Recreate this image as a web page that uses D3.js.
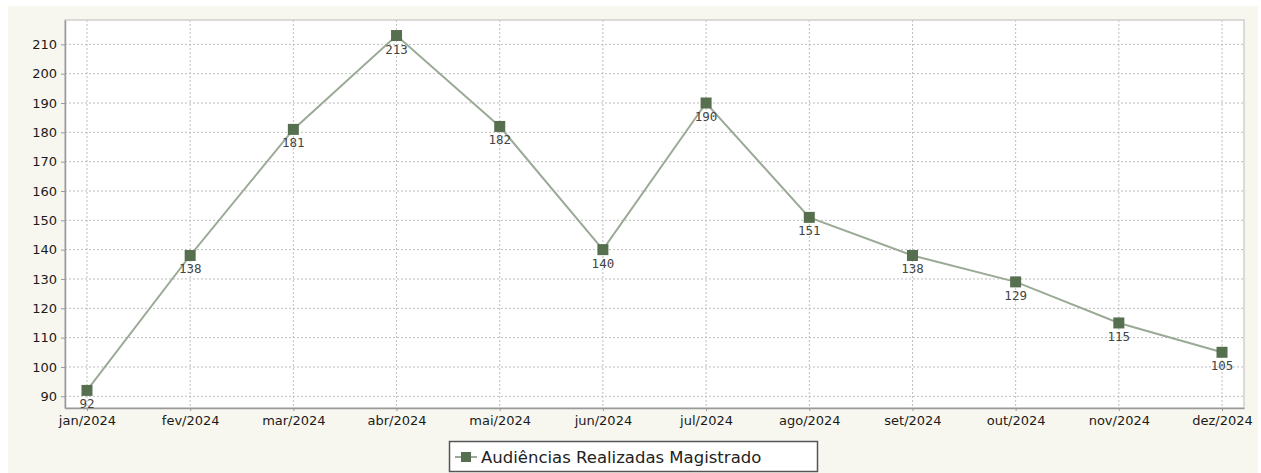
<!DOCTYPE html>
<html><head><meta charset="utf-8">
<script src="https://cdn.jsdelivr.net/npm/d3@7"></script>
<style>
html,body{margin:0;padding:0;background:#fff;}
svg{display:block;}
</style></head>
<body>
<svg id="c" width="1261" height="473"></svg>
<script>
const categories = ["jan/2024","fev/2024","mar/2024","abr/2024","mai/2024","jun/2024","jul/2024","ago/2024","set/2024","out/2024","nov/2024","dez/2024"];
const values = [92,138,181,213,182,140,190,151,138,129,115,105];
const yTicks = [90,100,110,120,130,140,150,160,170,180,190,200,210];
const seriesName = "Audiências Realizadas Magistrado";

const svg = d3.select("#c");
svg.append("rect").attr("x",8).attr("y",6).attr("width",1250).attr("height",467).attr("fill","#f8f7ef");

const L=65,T=20,R=1244,B=408;
svg.append("rect").attr("x",L).attr("y",T).attr("width",R-L).attr("height",B-T).attr("fill","#fff");

const x = d3.scalePoint().domain(categories).range([L,R]).padding(0.213);
const y = d3.scaleLinear().domain([86,218.3]).range([B,T]);

const grid = svg.append("g");
grid.selectAll(".hg").data(yTicks).join("line")
  .attr("x1",L).attr("x2",R).attr("y1",d=>y(d)).attr("y2",d=>y(d))
  .attr("stroke","#bdbdbd").attr("stroke-width",1).attr("stroke-dasharray","2,2");
grid.selectAll(".vg").data(categories).join("line")
  .attr("y1",T).attr("y2",B).attr("x1",d=>x(d)).attr("x2",d=>x(d))
  .attr("stroke","#bdbdbd").attr("stroke-width",1).attr("stroke-dasharray","2,2");

// border
svg.append("rect").attr("x",L).attr("y",T).attr("width",R-L).attr("height",B-T)
  .attr("fill","none").attr("stroke","#cfcfcf").attr("stroke-width",1.5);

const yAxis = d3.axisLeft(y).tickValues(yTicks).tickSize(4).tickSizeOuter(0).tickPadding(4);
const gy = svg.append("g").attr("transform",`translate(${L},0)`).call(yAxis);
gy.select(".domain").attr("stroke","#999").attr("stroke-width",1.5);
gy.selectAll(".tick line").attr("stroke","#999");
gy.selectAll("text").attr("font-family","DejaVu Sans").attr("font-size","13px").attr("fill","#1a1a1a");

const xAxis = d3.axisBottom(x).tickSize(3).tickSizeOuter(0).tickPadding(5);
const gx = svg.append("g").attr("transform",`translate(0,${B})`).call(xAxis);
gx.select(".domain").attr("stroke","#999").attr("stroke-width",1.5);
gx.selectAll(".tick line").attr("stroke","#999");
gx.selectAll("text").attr("font-family","DejaVu Sans").attr("font-size","13px").attr("fill","#1a1a1a");

const data = categories.map((c,i)=>({c,v:values[i]}));
svg.append("path").datum(data)
  .attr("d", d3.line().x(d=>x(d.c)).y(d=>y(d.v)))
  .attr("fill","none").attr("stroke","#9aaa96").attr("stroke-width",2);
svg.selectAll(".m").data(data).join("rect")
  .attr("x",d=>x(d.c)-5.5).attr("y",d=>y(d.v)-5.5).attr("width",11).attr("height",11)
  .attr("fill","#56704f");
svg.selectAll(".lbl").data(data).join("text")
  .attr("x",d=>x(d.c)).attr("y",d=>y(d.v)+18)
  .attr("text-anchor","middle").attr("font-family","DejaVu Sans Mono").attr("font-size","12.5px")
  .attr("fill","#444").text(d=>d.v);

// legend
const lg = svg.append("g");
lg.append("rect").attr("x",449.5).attr("y",441.5).attr("width",368).attr("height",30)
  .attr("fill","#fff").attr("stroke","#555").attr("stroke-width",1.5);
lg.append("line").attr("x1",455).attr("x2",477).attr("y1",457).attr("y2",457).attr("stroke","#9aaa96").attr("stroke-width",2);
lg.append("rect").attr("x",461).attr("y",452).attr("width",10).attr("height",10).attr("fill","#56704f");
lg.append("text").attr("x",481).attr("y",463).attr("font-family","DejaVu Sans").attr("font-size","16.5px")
  .attr("fill","#222").text(seriesName);
</script>
</body></html>
